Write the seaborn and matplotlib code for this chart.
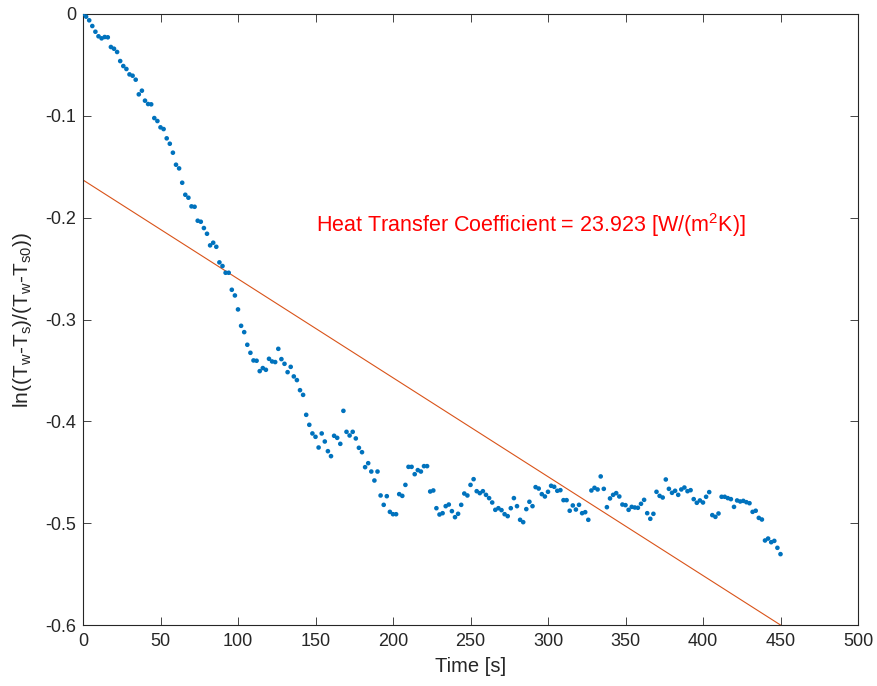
import numpy as np
import pandas as pd
import matplotlib
matplotlib.use("Agg")
import matplotlib.pyplot as plt
import seaborn as sns

# ---- data ----
time_s = list(range(0, 452, 2))
log_ratio = [
    0.0, -0.0026, -0.0062, -0.0118, -0.0174, -0.0219, -0.0239, -0.0226, -0.0229, -0.0324,
    -0.0341, -0.0373, -0.0462, -0.0511, -0.0540, -0.0593, -0.0606, -0.0645, -0.0789, -0.0753,
    -0.0851, -0.0884, -0.0887, -0.1022, -0.1051, -0.1113, -0.1130, -0.1221, -0.1274, -0.1362,
    -0.1480, -0.1516, -0.1657, -0.1775, -0.1804, -0.1889, -0.1893, -0.2030, -0.2040, -0.2102,
    -0.2158, -0.2272, -0.2246, -0.2286, -0.2439, -0.2475, -0.2541, -0.2541, -0.2708, -0.2764,
    -0.2901, -0.3062, -0.3124, -0.3248, -0.3327, -0.3402, -0.3405, -0.3507, -0.3477, -0.3494,
    -0.3386, -0.3412, -0.3418, -0.3288, -0.3389, -0.3435, -0.3517, -0.3465, -0.3559, -0.3595,
    -0.3694, -0.3740, -0.3936, -0.4034, -0.4119, -0.4152, -0.4257, -0.4119, -0.4198, -0.4293,
    -0.4342, -0.4142, -0.4162, -0.4221, -0.3897, -0.4103, -0.4139, -0.4103, -0.4168, -0.4260,
    -0.4303, -0.4450, -0.4411, -0.4493, -0.4581, -0.4493, -0.4728, -0.4820, -0.4735, -0.4889,
    -0.4912, -0.4912, -0.4715, -0.4732, -0.4624, -0.4447, -0.4447, -0.4519, -0.4479, -0.4493,
    -0.4440, -0.4440, -0.4689, -0.4679, -0.4853, -0.4915, -0.4902, -0.4833, -0.4817, -0.4882,
    -0.4941, -0.4908, -0.4820, -0.4709, -0.4728, -0.4624, -0.4568, -0.4686, -0.4705, -0.4686,
    -0.4722, -0.4754, -0.4797, -0.4869, -0.4853, -0.4872, -0.4912, -0.4931, -0.4853, -0.4754,
    -0.4833, -0.4967, -0.4990, -0.4862, -0.4790, -0.4833, -0.4646, -0.4660, -0.4715, -0.4738,
    -0.4692, -0.4633, -0.4643, -0.4682, -0.4676, -0.4774, -0.4774, -0.4878, -0.4826, -0.4866,
    -0.4820, -0.4902, -0.4892, -0.4967, -0.4679, -0.4653, -0.4669, -0.4541, -0.4663, -0.4843,
    -0.4757, -0.4722, -0.4705, -0.4738, -0.4817, -0.4823, -0.4869, -0.4840, -0.4846, -0.4849,
    -0.4810, -0.4771, -0.4902, -0.4957, -0.4908, -0.4692, -0.4732, -0.4748, -0.4571, -0.4663,
    -0.4702, -0.4682, -0.4722, -0.4669, -0.4650, -0.4686, -0.4676, -0.4764, -0.4800, -0.4777,
    -0.4797, -0.4741, -0.4695, -0.4921, -0.4938, -0.4905, -0.4741, -0.4741, -0.4754, -0.4764,
    -0.4840, -0.4777, -0.4787, -0.4781, -0.4794, -0.4804, -0.4889, -0.4878, -0.4948, -0.4964,
    -0.5170, -0.5151, -0.5187, -0.5174, -0.5242, -0.5304,
]
fit_t = [0, 450]
fit_y = [-0.163, -0.600]

x_ticks = [0, 50, 100, 150, 200, 250, 300, 350, 400, 450, 500]
y_ticks = [0, -0.1, -0.2, -0.3, -0.4, -0.5, -0.6]
y_tick_labels = ["0", "-0.1", "-0.2", "-0.3", "-0.4", "-0.5", "-0.6"]
annotation = "Heat Transfer Coefficient = 23.923 [W/(m$^2$K)]"

# ---- style ----
sns.set_style("white")
plt.rcParams["font.family"] = ["Liberation Sans", "DejaVu Sans"]
plt.rcParams["mathtext.default"] = "regular"
plt.rcParams["axes.unicode_minus"] = False

axis_color = "#262626"

fig = plt.figure(figsize=(8.77, 6.86), dpi=100)
ax = fig.add_axes([83 / 877, 1 - 625 / 686, (858 - 83) / 877, (625 - 14) / 686])

df = pd.DataFrame({"t": time_s[:len(log_ratio)], "y": log_ratio})
fit_df = pd.DataFrame({"t": fit_t, "y": fit_y})

sns.lineplot(data=fit_df, x="t", y="y", ax=ax, color="#D95319", linewidth=0.8)
sns.scatterplot(data=df, x="t", y="y", ax=ax, color="#0072BD", s=11,
                linewidth=0, edgecolor="none", zorder=3)

ax.set_xlim(0, 500)
ax.set_ylim(-0.6, 0)
ax.set_xticks(x_ticks)
ax.set_xticklabels([str(v) for v in x_ticks])
ax.set_yticks(y_ticks)
ax.set_yticklabels(y_tick_labels)

ax.tick_params(axis="both", which="both", direction="in", length=5.5, width=0.6,
               colors=axis_color, labelsize=13, top=True, right=True,
               bottom=True, left=True)
ax.tick_params(axis="x", pad=6)
ax.tick_params(axis="y", pad=5)
for sp in ax.spines.values():
    sp.set_visible(True)
    sp.set_color(axis_color)
    sp.set_linewidth(0.8)

ax.set_xlabel("Time [s]", fontsize=14.5, color=axis_color, labelpad=5)
ax.set_ylabel("ln((T$_w$-T$_s$)/(T$_w$-T$_{s0}$))", fontsize=15,
              color=axis_color, labelpad=8)

ax.text(150, -0.207, annotation, color="red", fontsize=15.5,
        ha="left", va="center")

fig.savefig("out.png", dpi=100)
